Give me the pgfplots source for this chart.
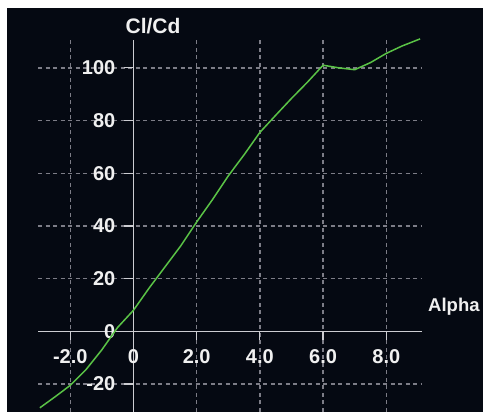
\documentclass[border=0pt]{standalone}
\usepackage{pgfplots}
\pgfplotsset{compat=1.18}
\usepackage{fontspec}
\setmainfont{Liberation Sans}
\definecolor{bg}{RGB}{5,9,18}
\definecolor{curve}{RGB}{90,195,70}
\definecolor{gridc}{RGB}{125,125,135}
\definecolor{axc}{RGB}{205,205,210}
\definecolor{txt}{RGB}{240,240,240}
\begin{document}
\begin{tikzpicture}
\path[use as bounding box] (0,0) rectangle (483pt,412pt);
\fill[white] (0,0) rectangle (483pt,412pt);
\fill[bg] (7pt,0) rectangle (483pt,404pt);
\begin{axis}[
  at={(38pt,0pt)}, anchor=south west,
  scale only axis, width=384pt, height=371.8pt,
  xmin=-3.02, xmax=9.13, ymin=-30.6, ymax=110.5,
  axis lines=middle,
  axis line style={axc, line width=1.3pt, -},
  hide obscured x ticks=false, hide obscured y ticks=false,
  /pgf/number format/assume math mode=true,
  xtick={-2,0,2,4,6,8}, xticklabels={-2.0,0,2.0,4.0,6.0,8.0},
  ytick={-20,0,20,40,60,80,100},
  yticklabels={-20,0,20,40,60,80,100},
  tick align=outside, major tick length=9pt,
  tick style={axc, line width=1.2pt},
  grid=major,
  major grid style={gridc, line width=1.3pt, dash pattern=on 4pt off 3.5pt},
  tick label style={font=\fontsize{20}{22}\selectfont\bfseries, text=txt, inner sep=2pt},
  xticklabel style={anchor=north, yshift=-7pt},
  yticklabel style={anchor=east, xshift=-7pt},
  every axis x label/.style={at={(axis description cs:1.0156,0.2824)}, anchor=west, font=\fontsize{18.5}{21}\selectfont\bfseries, text=txt, inner sep=0pt},
  every axis y label/.style={at={(axis description cs:0.2995,1.038)}, anchor=center, font=\fontsize{21}{23}\selectfont\bfseries, text=txt},
  xlabel={Alpha}, ylabel={Cl/Cd},
  clip=false,
]
\addplot[curve, line width=1.5pt, no marks] coordinates {
(-2.96,-29) (-2.5,-25) (-2.0,-20.5) (-1.5,-14.5) (-1.0,-7) (-0.5,1.5)
(0,8) (0.5,16.5) (1.0,24.5) (1.5,32.5) (2.0,41.5) (2.5,50) (3.0,59)
(3.5,67) (4.0,75.5) (4.5,82) (5.0,88.4) (5.5,94.5) (6.0,101)
(6.5,100) (7.0,99.3) (7.5,102) (8.0,105.5) (8.5,108.3) (9.07,111)
};
\end{axis}
\end{tikzpicture}
\end{document}
